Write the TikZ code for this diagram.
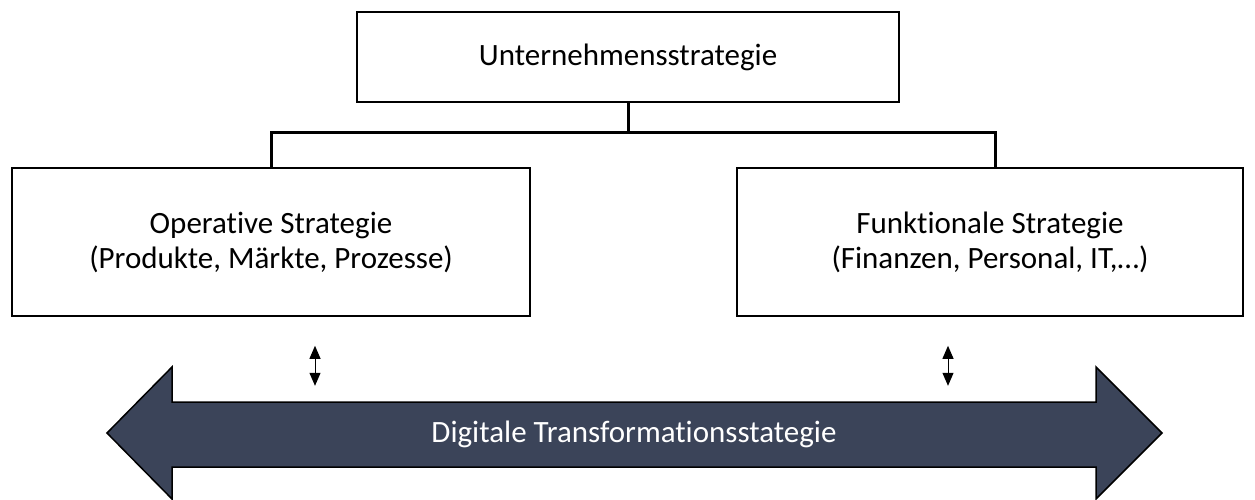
\documentclass[tikz,border=0pt]{standalone}
\usepackage{fontspec}
\setmainfont{Carlito}[Ligatures=NoCommon]
\usetikzlibrary{arrows.meta, positioning, calc}
\definecolor{arrowslate}{RGB}{59, 68, 89}

\begin{document}
\begin{tikzpicture}[
    x=1pt, y=-1pt,
    font=\fontsize{31}{35}\selectfont,
    % Styles
    stratbox/.style={draw=black, line width=1.6pt, fill=white, align=center, inner sep=0pt},
    branch/.style={line width=3pt},
    link/.style={{Triangle[width=11pt,length=13pt]}-{Triangle[width=11pt,length=13pt]}, line width=1pt},
    bigarrow/.style={draw=black, line width=1.5pt, fill=arrowslate, line join=miter}
]
    \useasboundingbox (0,0) rectangle (1255,499);

    % Strategy boxes
    \node (corp) [stratbox, minimum width=542pt, minimum height=90pt] at (628,57) {Unternehmensstrategie};
    \node (oper) [stratbox, minimum width=518pt, minimum height=148pt] at (271,242) {Operative Strategie\\(Produkte, Märkte, Prozesse)};
    \node (func) [stratbox, minimum width=506pt, minimum height=148pt] at (990,242) {Funktionale Strategie\\(Finanzen, Personal, IT,…)};

    % Tree connector
    \coordinate (fork) at (628,132);
    \draw [branch] (corp.south) -- (fork);
    \draw [branch] (oper.north) |- (fork) -| ([xshift=5pt]func.north);

    % Digital transformation arrow
    \draw [bigarrow] (107,433) -- (172,367) -- (172,402) -- (1096,402) -- (1096,367) -- (1162,433)
        -- (1096,499) -- (1096,467) -- (172,467) -- (172,499) -- cycle;
    \node (digi) [text=white] at (634,434) {Digitale Transformationsstategie};

    % Links between strategies and digital arrow
    \coordinate (opertop) at ($(oper.south)+(44,29)$);
    \coordinate (operbot) at ($(oper.south)+(44,69)$);
    \coordinate (functop) at ($(func.south)+(-42,29)$);
    \coordinate (funcbot) at ($(func.south)+(-42,69)$);
    \draw [link] (opertop) -- (operbot);
    \draw [link] (functop) -- (funcbot);

\end{tikzpicture}
\end{document}
